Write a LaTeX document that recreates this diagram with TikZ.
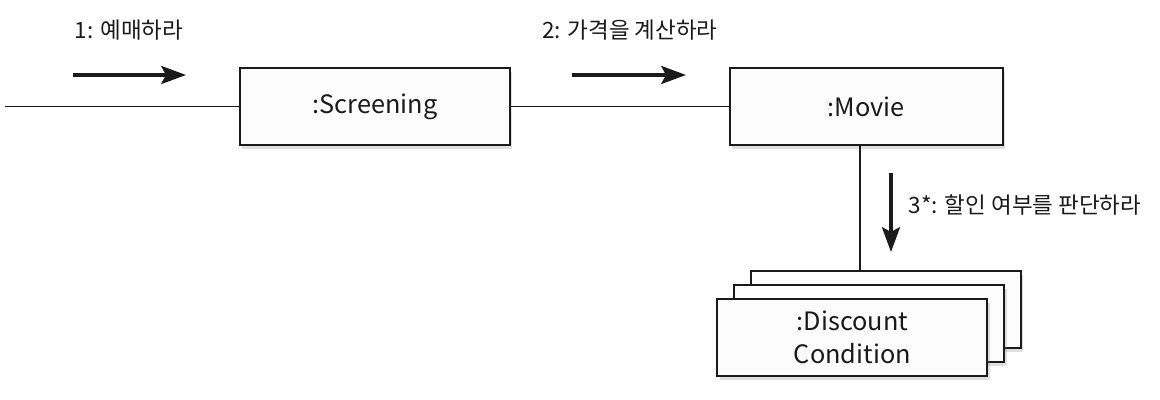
\documentclass[tikz,border=0pt]{standalone}
\usepackage{fontspec}
\setmainfont{Noto Sans CJK KR}
\usepackage{xcolor}
\usepackage{tikz}
\usetikzlibrary{positioning, arrows.meta, calc, shadows}
\definecolor{ink}{HTML}{1A1A1A}
\definecolor{boxbg}{HTML}{FCFCFC}
\tikzset{
  obj/.style={
    draw=ink, line width=1.3pt, fill=boxbg,
    minimum width=6.75cm, minimum height=1.93cm,
    align=center, font=\fontsize{18}{23}\selectfont, text=ink,
    drop shadow={opacity=0.25, shadow xshift=0.06cm, shadow yshift=-0.1cm}
  },
  link/.style={draw=ink, line width=1pt},
  msg/.style={-{Stealth[length=0.62cm, width=0.45cm, inset=0.12cm]}, line width=2.4pt, draw=ink},
  msglabel/.style={font=\fontsize{16}{20}\selectfont, text=ink}
}
\begin{document}
\begin{tikzpicture}
  \useasboundingbox (0,0) rectangle (29,10);

  % Objects
  \node[obj] (screening) at (9.375, 7.34) {:Screening};
  \node[obj, minimum width=6.83cm] (movie) at (21.66, 7.34) {:Movie};
  \node[obj] (dcback) at (22.15, 2.27) {};
  \node[obj] (dcmid) at (21.73, 1.92) {};
  \node[obj] (dc) at (21.31, 1.57) {:Discount\\Condition};

  % Links
  \coordinate (start) at (0.125, 7.34);
  \coordinate (mvdown) at ($(movie.south)+(-0.16,0)$);
  \draw[link] (start) -- (screening.west);
  \draw[link] (screening.east) -- (movie.west);
  \draw[link] (mvdown) -- (mvdown |- dcback.north);

  % Messages
  \coordinate (m1a) at (1.825, 8.125);
  \coordinate (m1b) at (4.65, 8.125);
  \draw[msg] (m1a) -- (m1b);
  \node[msglabel] (l1) at (3.225, 9.25) {1: 예매하라};

  \coordinate (m2a) at (14.3, 8.125);
  \coordinate (m2b) at (17.15, 8.125);
  \draw[msg] (m2a) -- (m2b);
  \node[msglabel] (l2) at (15.75, 9.25) {2: 가격을 계산하라};

  \coordinate (m3a) at (22.275, 5.675);
  \coordinate (m3b) at (22.275, 3.7);
  \draw[msg] (m3a) -- (m3b);
  \node[msglabel, anchor=west] (l3) at (22.6, 4.875) {3*: 할인 여부를 판단하라};
\end{tikzpicture}
\end{document}
